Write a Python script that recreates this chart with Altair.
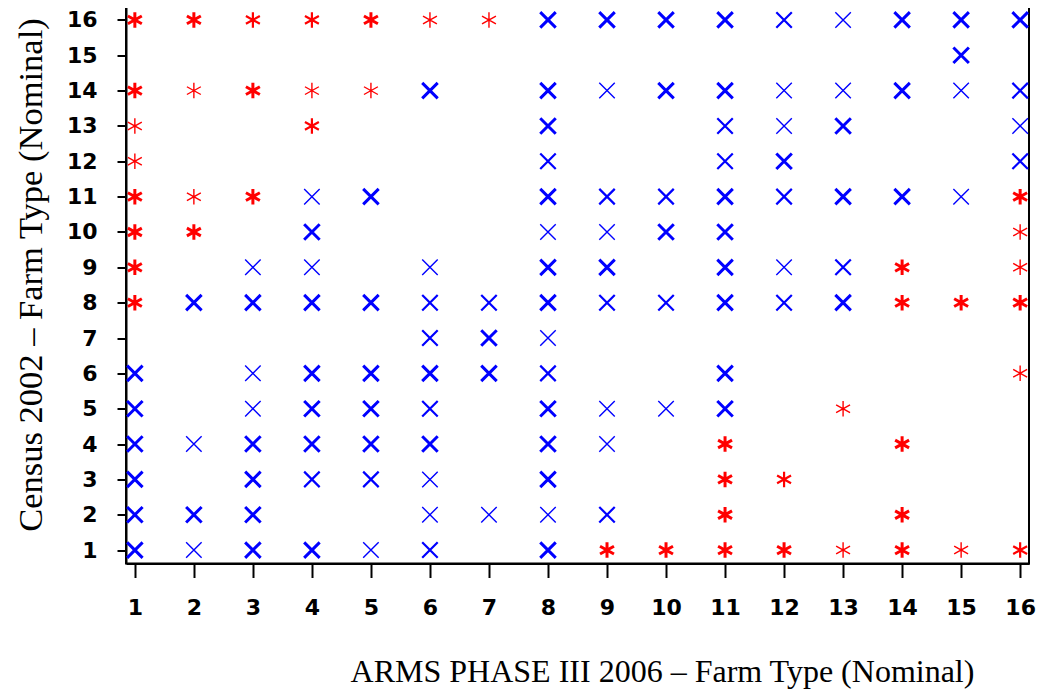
import altair as alt
import pandas as pd

# ARMS PHASE III 2006 farm type (x) -> Census 2002 farm types (y) observed
arms_types = list(range(1, 17))
census_by_arms = [
    [16, 14, 13, 12, 11, 10, 9, 8, 6, 5, 4, 3, 2, 1],
    [16, 14, 11, 10, 8, 4, 2, 1],
    [16, 14, 11, 9, 8, 6, 5, 4, 3, 2, 1],
    [16, 14, 13, 11, 10, 9, 8, 6, 5, 4, 3, 1],
    [16, 14, 11, 8, 6, 5, 4, 3, 1],
    [16, 14, 9, 8, 7, 6, 5, 4, 3, 2, 1],
    [16, 8, 7, 6, 2],
    [16, 14, 13, 12, 11, 10, 9, 8, 7, 6, 5, 4, 3, 2, 1],
    [16, 14, 11, 10, 9, 8, 5, 4, 2, 1],
    [16, 14, 11, 10, 8, 5, 1],
    [16, 14, 13, 12, 11, 10, 9, 8, 6, 5, 4, 3, 2, 1],
    [16, 14, 13, 12, 11, 9, 8, 3, 1],
    [16, 14, 13, 11, 9, 8, 5, 1],
    [16, 14, 11, 9, 8, 4, 2, 1],
    [16, 15, 14, 11, 8, 1],
    [16, 14, 13, 12, 11, 10, 9, 8, 6, 1],
]
# X = blue cross, A = red asterisk
marker_by_arms = [
    "AAAAAAAAXXXXXX", "AAAAXXXX", "AAAXXXXXXXX", "AAAXXXXXXXXX",
    "AAXXXXXXX", "AXXXXXXXXXX", "AXXXX", "XXXXXXXXXXXXXXX",
    "XXXXXXXXXA", "XXXXXXA", "XXXXXXXXXXAAAA", "XXXXXXXAA",
    "XXXXXXAA", "XXXAAAAA", "XXXXAA", "XXXXAAAAAA",
]
# apparent overplotting density (1 light .. 3 heavy)
weight_by_arms = [
    "33113333333333", "31133131", "23313113333", "212131333323",
    "313333321", "13122323112", "12331", "333231331233313",
    "3121321123", "3323213", "33223333333333", "211321223",
    "11332311", "33333333", "331131", "3212311312",
]

rows = []
for a, ys, ms, ws in zip(arms_types, census_by_arms, marker_by_arms, weight_by_arms):
    for y, m, w in zip(ys, ms, ws):
        rows.append({"arms": a, "census": y, "marker": m, "weight": int(w)})
df = pd.DataFrame(rows)

X_PATH = "M-1,-1L1,1M-1,1L1,-1"
AST_PATH = "M0,-1L0,1M-0.9,-0.5L0.9,0.5M-0.9,0.5L0.9,-0.5"

x_ticks = [1 + 0.25 * i for i in range(61)]
y_ticks = [1 + 0.25 * i for i in range(62)]
major_test = "datum.value % 1 === 0"

x_axis = alt.Axis(
    title="ARMS PHASE III 2006 – Farm Type (Nominal)",
    values=x_ticks,
    labelExpr="datum.value % 1 === 0 ? datum.label : ''",
    format="d",
    grid=False,
    domain=True, domainColor="black", domainWidth=2,
    ticks=True, tickColor="black", tickWidth=2,
    tickSize={"condition": {"test": major_test, "value": 14}, "value": 7},
    labelFont="DejaVu Sans", labelFontSize=22, labelFontWeight="bold",
    labelColor="black", labelPadding=20, labelFlush=False, labelOverlap=False,
    titleFont="Liberation Serif", titleFontSize=32, titleFontWeight="normal",
    titleColor="black", titleX=536, titleY=108, titleBaseline="middle",
    titleAlign="center", titleAnchor="start",
)
y_axis = alt.Axis(
    title="Census 2002 – Farm Type (Nominal)",
    values=y_ticks,
    labelExpr="datum.value % 1 === 0 ? datum.label : ''",
    format="d",
    grid=False,
    domain=True, domainColor="black", domainWidth=2,
    ticks=True, tickColor="black", tickWidth=2,
    tickSize={"condition": {"test": major_test, "value": 9}, "value": 5},
    labelFont="DejaVu Sans", labelFontSize=22, labelFontWeight="bold",
    labelColor="black", labelPadding=20, labelFlush=False, labelOverlap=False,
    titleFont="Liberation Serif", titleFontSize=34.5, titleFontWeight="normal",
    titleColor="black", titleX=-95, titleY=268, titleBaseline="middle",
    titleAlign="center", titleAnchor="start", titleAngle=270,
)

chart = (
    alt.Chart(df)
    .mark_point(filled=False, size=240, opacity=1)
    .encode(
        x=alt.X("arms:Q", scale=alt.Scale(domain=[0.85, 16.15], nice=False, zero=False), axis=x_axis),
        y=alt.Y("census:Q", scale=alt.Scale(domain=[0.62, 16.38], nice=False, zero=False), axis=y_axis),
        shape=alt.Shape("marker:N", scale=alt.Scale(domain=["X", "A"], range=[X_PATH, AST_PATH]), legend=None),
        color=alt.Color("marker:N", scale=alt.Scale(domain=["X", "A"], range=["#0000FF", "#FF0000"]), legend=None),
        strokeWidth=alt.StrokeWidth("weight:Q", scale=alt.Scale(domain=[1, 3], range=[1.4, 3.0]), legend=None),
    )
    .properties(
        width=903,
        height=557,
        autosize=alt.AutoSizeParams(type="none"),
        padding={"left": 118, "top": -1.5, "right": 7, "bottom": 125},
        background="white",
    )
    .configure_view(stroke="black", strokeWidth=2)
)

chart.save("out.html", embed_options={"renderer": "svg", "actions": False})
